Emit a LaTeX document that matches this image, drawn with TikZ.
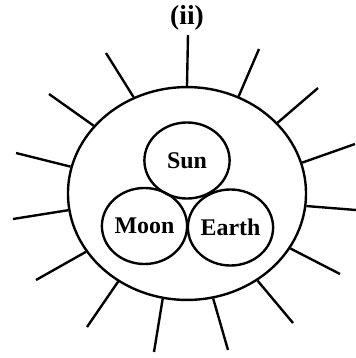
\documentclass[tikz,border=0pt]{standalone}
\usepackage{fontspec}
\setmainfont{Liberation Serif}
\usetikzlibrary{shapes.geometric}
\begin{document}
\begin{tikzpicture}[
    x=0.025cm,y=-0.025cm,
    ring/.style={draw,ellipse,line width=1.7pt,inner sep=0pt},
    orb/.style={ring,minimum width=2.13cm,minimum height=1.9cm,font=\fontsize{17}{19}\selectfont\bfseries},
    ray/.style={draw,-,line width=1.7pt}
  ]
  \useasboundingbox (0,0) rectangle (356,358);
  %% title
  \node[font=\fontsize{19.5}{21}\selectfont\bfseries] (ttl) at (187,18) {(ii)};
  %% outer disc
  \node[ring,minimum width=5.95cm,minimum height=5.32cm] (halo) at (187,193.5) {};
  %% the three bodies
  \node[orb] (sun)   at (187,160.5) {Sun};
  \node[orb] (moon)  at (144.5,226) {Moon};
  \node[orb] (earth) at (230.5,227.5) {Earth};
  %% rays: angle on the disc / outer end
  \foreach \i/\a/\x/\y in {1/90/188/35,2/62.6/259/49,3/38.9/318/88,4/15.3/355/144,
      5/-6.4/356/210,6/-28.3/340/274,7/-51.3/293/323,8/-76.3/228/350,
      9/257.8/154/352,10/232.7/87/327,11/210.1/36/280,12/188.5/13/219,
      13/167/16/153,14/144.1/49/94,15/119.5/106/53}{
    \coordinate (r\i) at (\x,\y);
    \draw[ray] (halo.\a) -- (r\i);
  }
\end{tikzpicture}
\end{document}
